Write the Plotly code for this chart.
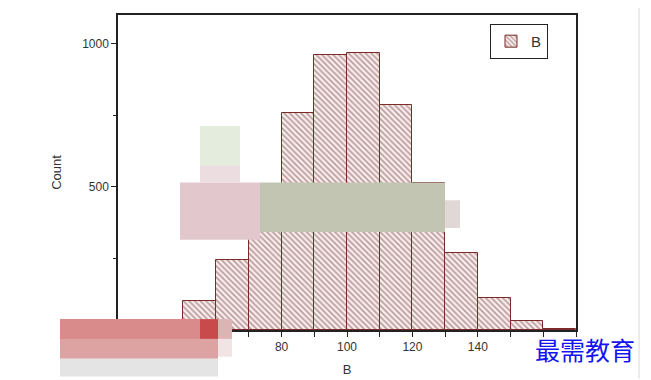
import plotly.graph_objects as go

bin_starts = [50, 60, 70, 80, 90, 100, 110, 120, 130, 140, 150, 160]
counts = [100, 243, 510, 757, 962, 969, 785, 512, 268, 112, 32, 4]
bin_width = 10
centers = [s + bin_width / 2 for s in bin_starts]

x_tickvals = [40, 60, 80, 100, 120, 140]

# page-pixel geometry of the plotting area (page has an 8px body margin)
PL, PR, PT, PB = 118, 576, 13, 331
OFF = 8


def px(x):
    return (x - PL) / (PR - PL)


def py(y):
    return (PB - y) / (PB - PT)


fig = go.Figure()
fig.add_trace(go.Bar(
    x=centers, y=counts, width=[bin_width] * len(centers), name="B",
    marker=dict(color="#fbecec", line=dict(color="#7a2a2a", width=1),
                pattern=dict(shape="\\", fgcolor="#6e4a4a", bgcolor="#fcecec",
                             size=4, solidity=0.4)),
    showlegend=True,
))

axis_common = dict(showline=True, linecolor="#222", linewidth=1.5, mirror=True,
                   showgrid=False, zeroline=False, ticks="outside", ticklen=5,
                   tickcolor="#222", tickfont=dict(family="Arial", size=12, color="#333"))

fig.update_xaxes(range=[30, 170], tickvals=x_tickvals,
                 minor=dict(dtick=10, tick0=0, ticks="outside", ticklen=5, tickcolor="#222"),
                 title=dict(text="B", font=dict(family="Arial", size=13, color="#333"), standoff=12),
                 **axis_common)
fig.update_yaxes(range=[0, 1100], tickvals=[500, 1000],
                 minor=dict(dtick=250, tick0=0, ticks="outside", ticklen=3, tickcolor="#222"),
                 title=dict(text="Count", font=dict(family="Arial", size=13, color="#333"), standoff=18),
                 **axis_common)


def patch(x0, x1, y0, y1, color):
    return dict(type="rect", xref="paper", yref="paper",
                x0=px(x0), x1=px(x1), y0=py(y1), y1=py(y0),
                fillcolor=color, line=dict(width=0), layer="above")


shapes = [
    dict(type="line", xref="paper", yref="paper", x0=px(639), x1=px(639), y0=py(380), y1=py(0),
         line=dict(color="#d8d8d8", width=1)),
    # obfuscation patches seen in the reference image
    patch(60, 200, 320, 340, "#d98a8a"),
    patch(200, 218, 320, 340, "#c84a4a"),
    patch(218, 232, 320, 340, "#dcb4b4"),
    patch(60, 218, 340, 360, "#dda3a3"),
    patch(218, 232, 340, 358, "#f0e4e4"),
    patch(60, 218, 360, 378, "#e4e4e4"),
    patch(180, 260, 182, 240, "#e2c8cc"),
    patch(260, 445, 182, 232, "#c3c5b3"),
    patch(445, 460, 200, 228, "#e0d8d6"),
    patch(200, 240, 125, 165, "#e4ecdd"),
    patch(200, 240, 165, 182, "#ecdde0"),
]
fig.update_layout(shapes=shapes)

fig.add_annotation(text="最需教育", xref="paper", yref="paper", x=px(585), y=py(350),
                   xanchor="center", yanchor="middle", showarrow=False, borderpad=0,
                   font=dict(family="Noto Sans CJK SC", size=25, color="#1414f0"))

fig.update_layout(
    width=643, height=372,
    margin=dict(l=PL - OFF, r=651 - PR, t=PT - OFF, b=380 - PB),
    paper_bgcolor="white", plot_bgcolor="white",
    bargap=0,
    legend=dict(x=px(548), y=py(22), xanchor="right", yanchor="top",
                bordercolor="#222", borderwidth=1, bgcolor="white",
                font=dict(family="Arial", size=15, color="#333"),
                itemwidth=30, tracegroupgap=0),
)

fig.write_html("out.html")
